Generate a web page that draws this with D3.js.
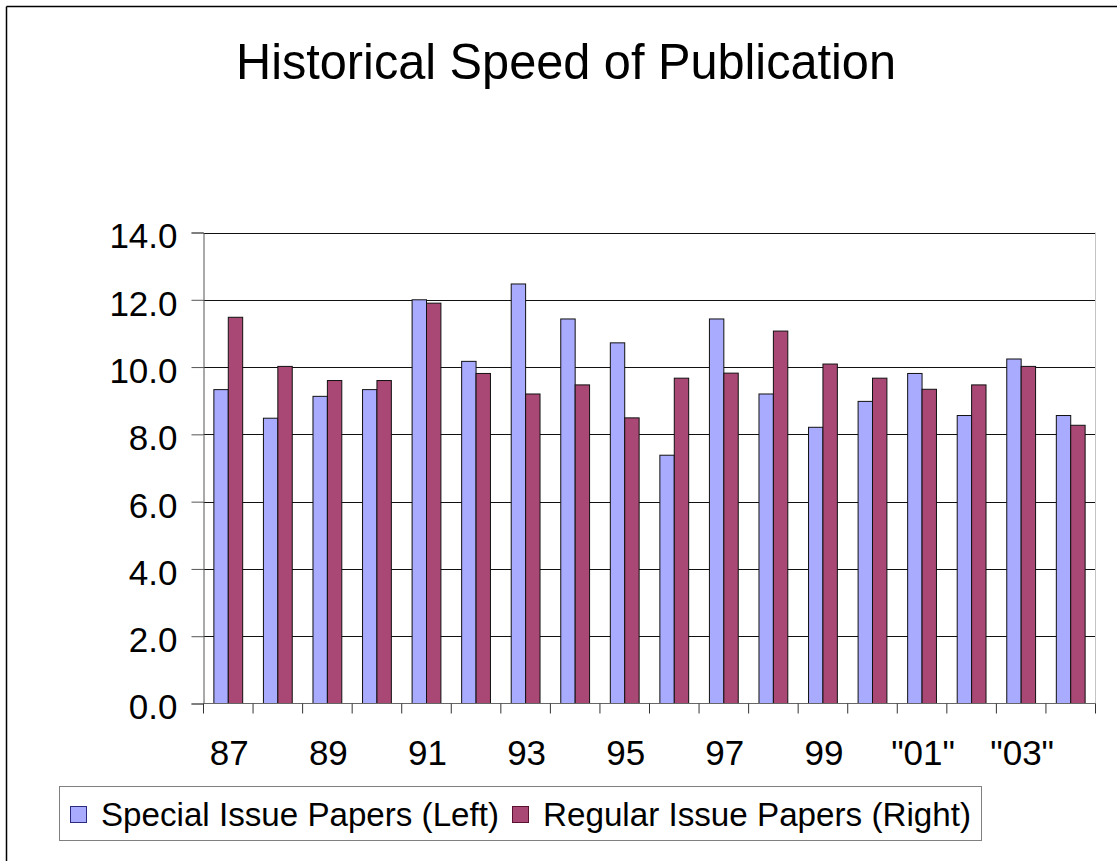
<html>
  <head>
<script src='https://d3js.org/d3.v7.min.js'></script>
<style>
body { margin: 0; background: white; }
text { font-family: 'Liberation Sans', Arial, sans-serif; fill: black; }
</style>
  </head>
<body>
<svg id="chart" width=1117 height=861></svg>
<script>
// chart values
var years = ['87','88','89','90','91','92','93','94','95','96','97','98','99','"00"','"01"','"02"','"03"','"04"'];
var special = [9.33, 8.48, 9.13, 9.33, 12.0, 10.17, 12.47, 11.43, 10.72, 7.38, 11.43, 9.2, 8.21, 8.98, 9.81, 8.56, 10.24, 8.56];
var regular = [11.48, 10.02, 9.6, 9.6, 11.9, 9.81, 9.2, 9.47, 8.49, 9.67, 9.82, 11.07, 10.09, 9.67, 9.34, 9.47, 10.02, 8.27];
var yTicks = [0, 2, 4, 6, 8, 10, 12, 14];
var seriesNames = ['Special Issue Papers (Left)', 'Regular Issue Papers (Right)'];
var colors = ['#a9abff', '#a94874'];

function draw() {
var svg = d3.select('#chart');

// outer chart frame (only top and left show in the picture)
svg.append('line').attr('x1', 6.5).attr('y1', 6.5).attr('x2', 1117).attr('y2', 6.5)
   .style('stroke', '#000').style('stroke-width', 1.5);
svg.append('line').attr('x1', 6.5).attr('y1', 6.5).attr('x2', 6.5).attr('y2', 861)
   .style('stroke', '#000').style('stroke-width', 1.5);

svg.append('text')
   .attr('x', 566).attr('y', 79)
   .attr('text-anchor', 'middle')
   .attr('textLength', 660).attr('lengthAdjust', 'spacingAndGlyphs')
   .style('font-size', '50px')
   .text('Historical Speed of Publication');

var pLeft = 203.5, pRight = 1095.5, pTop = 232.5, pBottom = 703.5;

var x0 = d3.scaleBand().domain(years).range([pLeft, pRight]).padding(0);
var x1 = d3.scaleBand().domain([0, 1]).range([0, x0.bandwidth()]).paddingInner(0).paddingOuter(0.72);
var y = d3.scaleLinear().domain([0, 14]).range([pBottom, pTop]);

// gridlines
svg.append('g').selectAll('line')
   .data(yTicks.filter(function(d) { return d > 0; }))
   .enter().append('line')
   .attr('x1', pLeft).attr('x2', pRight)
   .attr('y1', function(d) { return Math.round(y(d)) + 0.5; })
   .attr('y2', function(d) { return Math.round(y(d)) + 0.5; })
   .style('stroke', '#111').style('stroke-width', 1);

// right edge of plot area
svg.append('line').attr('x1', pRight).attr('x2', pRight).attr('y1', pTop).attr('y2', pBottom)
   .style('stroke', '#c4c4c4');

// bars
var groups = svg.append('g').selectAll('g')
   .data(years)
   .enter().append('g')
   .attr('transform', function(d) { return 'translate(' + x0(d) + ',0)'; });

groups.selectAll('rect')
   .data(function(d, i) { return [special[i], regular[i]]; })
   .enter().append('rect')
   .attr('x', function(d, j) { return x1(j); })
   .attr('width', x1.bandwidth())
   .attr('y', function(d) { return y(d); })
   .attr('height', function(d) { return pBottom - y(d); })
   .style('fill', function(d, j) { return colors[j]; })
   .style('stroke', '#111').style('stroke-width', 1);

// y axis
var yAxis = svg.append('g')
   .attr('transform', 'translate(' + pLeft + ',0)')
   .call(d3.axisLeft(y).tickValues(yTicks).tickSize(12).tickPadding(14).tickFormat(d3.format('.1f')));
yAxis.select('.domain').style('stroke', '#555');
yAxis.selectAll('.tick line').style('stroke', '#555');
yAxis.selectAll('.tick text')
   .attr('dy', '0.44em')
   .style('font-size', '35px')
   .style('font-family', "'Liberation Sans', Arial, sans-serif");

// x axis line and ticks on category boundaries
svg.append('line').attr('x1', pLeft).attr('x2', pRight).attr('y1', pBottom).attr('y2', pBottom)
   .style('stroke', '#666');
var bounds = years.map(function(d) { return x0(d); }).concat([x0.range()[1]]);
svg.append('g').selectAll('line')
   .data(bounds)
   .enter().append('line')
   .attr('x1', function(d) { return d; }).attr('x2', function(d) { return d; })
   .attr('y1', pBottom).attr('y2', pBottom + 10)
   .style('stroke', '#333');

// every second year label
svg.append('g').selectAll('text')
   .data(years.filter(function(d, i) { return i % 2 == 0; }))
   .enter().append('text')
   .attr('x', function(d) { return x0(d) + x0.bandwidth() / 2 + 1; })
   .attr('y', 765)
   .attr('text-anchor', 'middle')
   .style('font-size', '35px')
   .text(function(d) { return d; });

// legend
svg.append('rect').attr('x', 59.5).attr('y', 786.5).attr('width', 922).attr('height', 54)
   .style('fill', 'white').style('stroke', '#808080').style('stroke-width', 1);
var legX = [70.5, 512.5], legText = [101, 543], legLen = [398, 428];
seriesNames.forEach(function(name, i) {
  svg.append('rect').attr('x', legX[i]).attr('y', 806.5).attr('width', 16).attr('height', 16)
     .style('fill', colors[i]).style('stroke', i == 0 ? '#2a2a80' : '#5a1030').style('stroke-width', 1);
  svg.append('text').attr('x', legText[i]).attr('y', 826)
     .attr('textLength', legLen[i]).attr('lengthAdjust', 'spacingAndGlyphs')
     .style('font-size', '34px')
     .text(name);
});
}
draw();
</script>
</body>
</html>
